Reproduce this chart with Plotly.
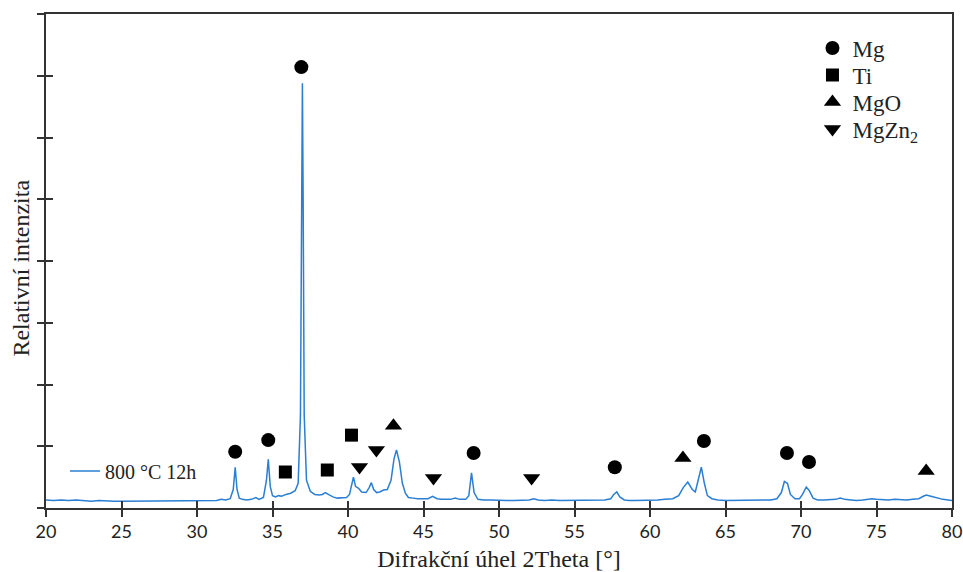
import plotly.graph_objects as go

# --- XRD pattern (2Theta [deg], relative intensity) ---
two_theta = [
    20.0, 20.5, 21.0, 21.5, 22.0, 22.5, 23.0, 23.5, 24.0, 24.5, 25.0, 25.5, 26.0, 26.5,
    27.0, 27.5, 28.0, 28.5, 29.0, 29.5, 30.0, 30.5, 31.0, 31.3, 31.6, 31.9, 32.2, 32.4,
    32.53, 32.65, 32.8, 33.0, 33.3, 33.6, 33.9, 34.1, 34.4, 34.6, 34.72, 34.85, 35.0,
    35.2, 35.4, 35.6, 35.9, 36.2, 36.5, 36.7, 36.85, 36.93, 36.98, 37.03, 37.1, 37.25,
    37.5, 37.8, 38.1, 38.3, 38.5, 38.7, 39.0, 39.3, 39.6, 39.9, 40.1, 40.25, 40.36, 40.5,
    40.7, 40.9, 41.2, 41.4, 41.55, 41.7, 41.9, 42.1, 42.35, 42.6, 42.85, 43.05, 43.21,
    43.4, 43.6, 43.8, 44.0, 44.3, 44.6, 45.0, 45.3, 45.6, 45.9, 46.2, 46.5, 46.8, 47.1,
    47.4, 47.8, 48.0, 48.18, 48.35, 48.6, 49.0, 49.5, 50.0, 50.5, 51.0, 51.5, 52.0, 52.3,
    52.6, 53.0, 53.5, 54.0, 54.5, 55.0, 55.5, 56.0, 56.5, 57.0, 57.4, 57.6, 57.8, 58.0,
    58.3, 58.6, 59.0, 59.5, 60.0, 60.5, 61.0, 61.5, 61.9, 62.2, 62.5, 62.8, 63.0, 63.2,
    63.4, 63.6, 63.8, 64.1, 64.5, 65.0, 65.5, 66.0, 66.5, 67.0, 67.5, 68.0, 68.4, 68.7,
    68.9, 69.1, 69.3, 69.6, 69.9, 70.1, 70.35, 70.55, 70.8, 71.1, 71.5, 72.0, 72.3, 72.6,
    72.9, 73.3, 73.7, 74.1, 74.4, 74.7, 75.0, 75.4, 75.8, 76.2, 76.6, 77.0, 77.4, 77.8,
    78.1, 78.3, 78.6, 79.0, 79.4, 80.0,
]
intensity = [
    0.13, 0.12, 0.13, 0.12, 0.13, 0.12, 0.11, 0.12, 0.11, 0.11, 0.11, 0.11, 0.11, 0.11,
    0.11, 0.11, 0.11, 0.12, 0.11, 0.11, 0.11, 0.11, 0.11, 0.12, 0.14, 0.13, 0.15, 0.30,
    0.66, 0.30, 0.16, 0.14, 0.13, 0.14, 0.17, 0.14, 0.17, 0.45, 0.79, 0.35, 0.20,
    0.18, 0.20, 0.19, 0.22, 0.24, 0.28, 0.40, 1.50, 5.00, 6.88, 5.00, 1.50, 0.45,
    0.27, 0.22, 0.21, 0.22, 0.25, 0.22, 0.18, 0.16, 0.16, 0.17, 0.22, 0.40, 0.50, 0.35,
    0.32, 0.26, 0.25, 0.33, 0.41, 0.30, 0.25, 0.26, 0.29, 0.30, 0.45, 0.80, 0.94,
    0.75, 0.40, 0.24, 0.17, 0.16, 0.15, 0.15, 0.15, 0.19, 0.15, 0.14, 0.14, 0.14, 0.16,
    0.14, 0.14, 0.20, 0.57, 0.25, 0.14, 0.13, 0.13, 0.12, 0.12, 0.12, 0.12, 0.13, 0.15,
    0.13, 0.12, 0.13, 0.12, 0.12, 0.13, 0.12, 0.12, 0.13, 0.13, 0.15, 0.22, 0.26, 0.18,
    0.13, 0.12, 0.12, 0.12, 0.12, 0.13, 0.14, 0.15, 0.20, 0.33, 0.42, 0.30, 0.26, 0.45,
    0.66, 0.40, 0.20, 0.15, 0.13, 0.12, 0.12, 0.12, 0.12, 0.12, 0.13, 0.13, 0.15, 0.25,
    0.43, 0.40, 0.22, 0.15, 0.15, 0.22, 0.34, 0.28, 0.16, 0.13, 0.13, 0.13, 0.14, 0.16,
    0.14, 0.13, 0.12, 0.13, 0.14, 0.15, 0.14, 0.13, 0.13, 0.14, 0.13, 0.13, 0.14, 0.15,
    0.19, 0.21, 0.19, 0.16, 0.14, 0.12,
]

# --- phase markers (position, label height) ---
mg_x = [32.53, 34.72, 36.91, 48.32, 57.67, 63.57, 69.07, 70.53]
mg_y = [0.91, 1.10, 7.14, 0.89, 0.66, 1.085, 0.89, 0.745]
ti_x = [35.85, 38.63, 40.23]
ti_y = [0.583, 0.615, 1.18]
mgo_x = [43.01, 62.18, 78.29]
mgo_y = [1.33, 0.81, 0.60]
mgzn2_x = [40.76, 41.88, 45.66, 52.16]
mgzn2_y = [0.664, 0.94, 0.486, 0.486]

x_range = [20, 80]
y_range = [0, 8]

serif = "Liberation Serif, Times New Roman, serif"
axis_col = "#333333"
txt_col = "#222222"

fig = go.Figure()
fig.add_trace(go.Scatter(
    x=two_theta, y=intensity, mode="lines", name="800 °C 12h",
    line=dict(color="#2a7fd4", width=1.5), legend="legend",
))

marker_sets = [
    ("Mg", mg_x, mg_y, "circle", 14, "legend2"),
    ("Ti", ti_x, ti_y, "square", 13, "legend3"),
    ("MgO", mgo_x, mgo_y, "triangle-up", 15, "legend4"),
    ("MgZn<sub>2</sub>", mgzn2_x, mgzn2_y, "triangle-down", 15, "legend5"),
]
for name, xs, ys, sym, sz, lg in marker_sets:
    fig.add_trace(go.Scatter(
        x=xs, y=ys, mode="markers", name=name, legend=lg,
        marker=dict(symbol=sym, size=sz, color="black", line=dict(width=0)),
    ))

# empty trace carrying the overlay axes (inner half of the crossing ticks)
fig.add_trace(go.Scatter(x=[], y=[], xaxis="x2", yaxis="y2", showlegend=False,
                         hoverinfo="skip"))

plot_top, plot_bot = 14, 508
def row_y(py):
    return (plot_bot - py) / (plot_bot - plot_top)

def marker_legend(py):
    return dict(
        x=0.846, y=row_y(py), xanchor="left", yanchor="middle",
        bgcolor="rgba(0,0,0,0)", font=dict(family=serif, size=23, color=txt_col),
        itemsizing="trace",
    )

fig.update_layout(
    width=963, height=572,
    margin=dict(l=46, r=11, t=14, b=64, autoexpand=False),
    paper_bgcolor="white", plot_bgcolor="white",
    font=dict(family=serif, color=txt_col),
    showlegend=True,
    xaxis=dict(
        range=x_range, dtick=5, tick0=20, showgrid=False, zeroline=False,
        showline=True, linecolor=axis_col, linewidth=1.5, mirror=True,
        ticks="outside", ticklen=7, tickwidth=1.5, tickcolor=axis_col,
        tickfont=dict(family="Lato, Carlito, sans-serif", size=18, color=txt_col),
        automargin=False,
        title=dict(text="Difrakční úhel 2Theta [°]",
                   font=dict(family=serif, size=24, color=txt_col), standoff=10),
    ),
    yaxis=dict(
        range=y_range, dtick=1, tick0=0, showgrid=False, zeroline=False,
        showline=True, linecolor=axis_col, linewidth=1.5, mirror=True,
        ticks="outside", ticklen=7, tickwidth=1.5, tickcolor=axis_col,
        showticklabels=False, automargin=False,
    ),
    xaxis2=dict(
        range=x_range, dtick=5, tick0=20, overlaying="x", anchor="y", side="bottom",
        showgrid=False, zeroline=False, showline=False, automargin=False,
        ticks="inside", ticklen=7, tickwidth=1.5, tickcolor=axis_col,
        showticklabels=False,
    ),
    yaxis2=dict(
        range=y_range, dtick=1, tick0=0, overlaying="y", anchor="x", side="left",
        showgrid=False, zeroline=False, showline=False, automargin=False,
        ticks="inside", ticklen=7, tickwidth=1.5, tickcolor=axis_col,
        showticklabels=False,
    ),
    legend=dict(
        x=0.021, y=row_y(471), xanchor="left", yanchor="middle",
        bgcolor="rgba(0,0,0,0)", font=dict(family=serif, size=20, color=txt_col),
    ),
    legend2=marker_legend(48),
    legend3=marker_legend(75),
    legend4=marker_legend(102),
    legend5=marker_legend(129),
    annotations=[dict(
        text="Relativní intenzita", xref="paper", yref="paper",
        x=-0.028, y=0.486, xanchor="center", yanchor="middle", textangle=-90,
        showarrow=False, font=dict(family=serif, size=24, color=txt_col),
    )],
)

fig.write_html("out.html")
